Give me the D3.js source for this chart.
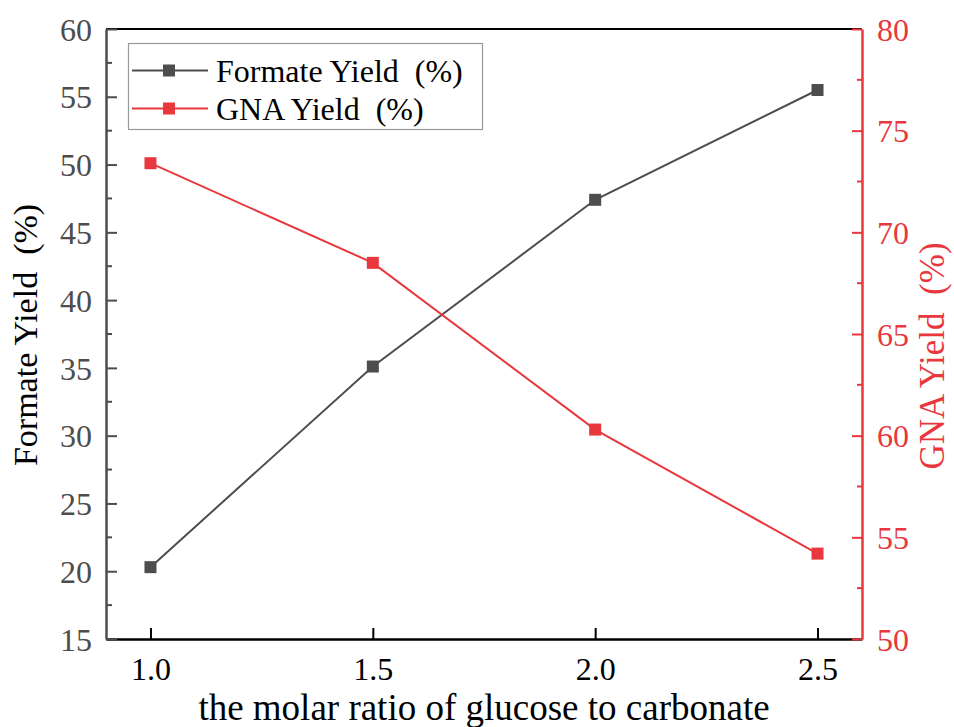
<!DOCTYPE html>
<html><head><meta charset="utf-8">
<script src="https://cdn.jsdelivr.net/npm/d3@7"></script>
<style>body{margin:0;background:#fff}svg{display:block}svg text{font-family:"Liberation Serif","Times New Roman",serif !important;white-space:pre}</style>
</head><body>
<svg id="c" width="954" height="727"></svg>
<script>
const ratios = [1.0, 1.5, 2.0, 2.5];
const formateYield = [20.3, 35.1, 47.4, 55.5];
const gnaYield = [73.4, 68.5, 60.3, 54.2];
const xTicks = [1.0, 1.5, 2.0, 2.5];
const leftTicks = [15, 20, 25, 30, 35, 40, 45, 50, 55, 60];
const rightTicks = [50, 55, 60, 65, 70, 75, 80];
const seriesNames = ["Formate Yield  (%)", "GNA Yield  (%)"];

const gray = "#4d4d4d", red = "#e8383d";
const L = 106, R = 862, T = 29, B = 639;
const svg = d3.select("#c");
const x = d3.scaleLinear().domain([0.9, 2.6]).range([L, R]);
const yL = d3.scaleLinear().domain([15, 60]).range([B, T]);
const yR = d3.scaleLinear().domain([50, 80]).range([B, T]);

svg.append("line").attr("x1", L).attr("x2", R).attr("y1", T).attr("y2", T).attr("stroke", "#000").attr("stroke-width", 2);
const fs = 32;
const xa = svg.append("g").attr("transform", `translate(0,${B})`)
  .call(d3.axisBottom(x).tickValues(xTicks).tickFormat(d3.format(".1f")).tickSizeInner(-11).tickSizeOuter(0).tickPadding(18));
xa.attr("font-family", null);
xa.select(".domain").attr("stroke", "#000").attr("stroke-width", 2.5);
xa.selectAll(".tick line").attr("stroke", "#000").attr("stroke-width", 2);
xa.selectAll("text").attr("font-size", fs).attr("fill", "#000");

const la = svg.append("g").attr("transform", `translate(${L},0)`)
  .call(d3.axisLeft(yL).tickValues(leftTicks).tickSizeInner(-11).tickSizeOuter(0).tickPadding(14));
la.attr("font-family", null);
la.select(".domain").attr("stroke", gray).attr("stroke-width", 2.5);
la.selectAll(".tick line").attr("stroke", gray).attr("stroke-width", 2);
la.selectAll("text").attr("font-size", fs).attr("fill", gray).attr("dy", "0.35em");
const lminor = d3.range(17.5, 60, 5);
la.selectAll(".mn").data(lminor).join("line").attr("x1", 0).attr("x2", 6)
  .attr("y1", d => yL(d)).attr("y2", d => yL(d)).attr("stroke", gray).attr("stroke-width", 2);

const ra = svg.append("g").attr("transform", `translate(${R},0)`)
  .call(d3.axisRight(yR).tickValues(rightTicks).tickSizeInner(-10).tickSizeOuter(0).tickPadding(15));
ra.attr("font-family", null);
ra.select(".domain").attr("stroke", red).attr("stroke-width", 2.5);
ra.selectAll(".tick line").attr("stroke", red).attr("stroke-width", 2);
ra.selectAll("text").attr("font-size", fs).attr("fill", red).attr("dy", "0.35em");
const rminor = d3.range(52.5, 80, 5);
ra.selectAll(".mn").data(rminor).join("line").attr("x1", 0).attr("x2", -5)
  .attr("y1", d => yR(d)).attr("y2", d => yR(d)).attr("stroke", red).attr("stroke-width", 2);

const series = [
  {vals: formateYield, y: yL, color: gray},
  {vals: gnaYield, y: yR, color: red}
];
series.forEach(s => {
  const line = d3.line().x((d, i) => x(ratios[i])).y(d => s.y(d));
  svg.append("path").datum(s.vals).attr("d", line).attr("fill", "none").attr("stroke", s.color).attr("stroke-width", 2);
  svg.selectAll(null).data(s.vals).join("rect")
    .attr("x", (d, i) => x(ratios[i]) - 6).attr("y", d => s.y(d) - 6)
    .attr("width", 12).attr("height", 12).attr("fill", s.color);
});

svg.append("rect").attr("x", 128.5).attr("y", 43.5).attr("width", 354).attr("height", 86)
  .attr("fill", "#fff").attr("stroke", "#999").attr("stroke-width", 1.2);
const ly = [70.5, 108.5];
series.forEach((s, i) => {
  svg.append("line").attr("x1", 132).attr("x2", 208).attr("y1", ly[i]).attr("y2", ly[i]).attr("stroke", s.color).attr("stroke-width", 2);
  svg.append("rect").attr("x", 163).attr("y", ly[i] - 6).attr("width", 12).attr("height", 12).attr("fill", s.color);
  svg.append("text").attr("x", 216).attr("y", ly[i]).attr("dy", "0.35em").attr("font-size", 32).attr("fill", "#000").text(seriesNames[i]);
});

svg.append("text").attr("x", (L + R) / 2).attr("y", 720).attr("text-anchor", "middle")
  .attr("font-size", 37).attr("fill", "#000").text("the molar ratio of glucose to carbonate");
svg.append("text").attr("transform", `translate(37,335) rotate(-90)`).attr("text-anchor", "middle")
  .attr("font-size", 34).attr("fill", "#000").text("Formate Yield  (%)");
svg.append("text").attr("transform", `translate(944,356) rotate(-90)`).attr("text-anchor", "middle")
  .attr("font-size", 35).attr("fill", red).text("GNA Yield  (%)");
</script>
</body></html>
